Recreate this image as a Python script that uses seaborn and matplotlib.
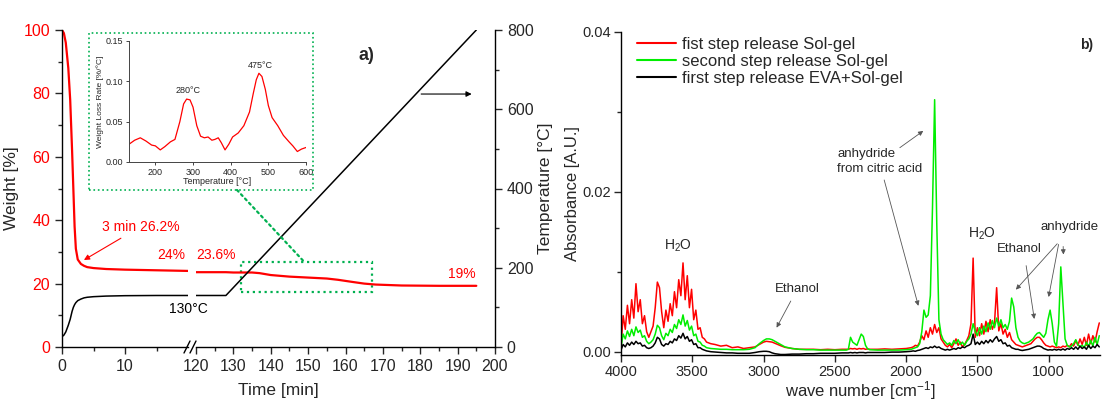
import numpy as np
import pandas as pd
import seaborn as sns
import matplotlib.pyplot as plt
from matplotlib.patches import Rectangle, ConnectionPatch
from matplotlib.lines import Line2D
from matplotlib.ticker import FormatStrFormatter

# ---------------- data: panel a) TGA ----------------
t_early = [0, 0.3, 0.6, 1.0, 1.3, 1.6, 1.8, 2.0, 2.2, 2.5, 3.0, 3.5, 4, 5, 7, 10, 15, 20]
weight_early = [100, 99, 96, 88, 78, 62, 50, 38, 31, 27.6, 26.2, 25.6, 25.2, 24.9, 24.6, 24.4, 24.2, 24.0]
temp_early = [26, 30, 38, 55, 70, 90, 100, 107, 112, 117, 121, 124, 125.5, 127, 128.5, 129.5, 130, 130]

t_late = [120, 125, 128, 130, 135, 137, 140, 145, 150, 155, 158, 162, 165, 168, 175, 185, 195]
weight_late = [23.6, 23.6, 23.6, 23.5, 23.5, 23.3, 22.7, 22.2, 21.9, 21.6, 21.2, 20.5, 20.0, 19.7, 19.4, 19.3, 19.3]
temp_late = [130, 130, 130, 150, 200, 220, 250, 300, 350, 400, 430, 470, 500, 530, 600, 700, 800]

# inset DTG
inset_T = [130, 145, 160, 175, 190, 200, 213, 225, 240, 252,
           265, 275, 283, 292, 300, 310, 320, 330, 340, 350,
           358, 367, 375, 385, 395, 405, 420, 435, 450, 460,
           468, 475, 483, 492, 500, 510, 525, 540, 555, 565,
           577, 588, 600]
inset_rate = [0.022, 0.027, 0.030, 0.026, 0.021, 0.020, 0.015, 0.019, 0.025, 0.028,
              0.050, 0.072, 0.078, 0.077, 0.068, 0.045, 0.032, 0.030, 0.031, 0.027,
              0.028, 0.030, 0.024, 0.015, 0.022, 0.031, 0.036, 0.045, 0.062, 0.085,
              0.102, 0.110, 0.106, 0.090, 0.070, 0.055, 0.045, 0.033, 0.025, 0.020,
              0.013, 0.016, 0.018]

# ---------------- data: panel b) FTIR (absorbance in 1e-3 units) ----------------
wn_a = [4000, 3985, 3970, 3955, 3940, 3925, 3910, 3895,
        3880, 3865, 3850, 3835, 3820, 3805, 3790, 3775, 3760, 3745, 3730, 3715, 3700,
        3685, 3670, 3655, 3640, 3625, 3610, 3595, 3580, 3565, 3550, 3535, 3520, 3505, 3490,
        3475, 3460, 3445, 3430, 3415, 3400]
red_a = [0.6, 4.5, 2.8, 5.8, 3.5, 6.5, 4.2, 8.5,
         5.0, 6.5, 3.5, 4.5, 2.5, 1.8, 2.5, 3.2, 5.5, 8.7, 8.0, 5.0, 3.0,
         5.2, 3.8, 6.0, 4.5, 7.5, 5.5, 9.0, 7.0, 11.1, 6.5, 9.5, 5.5, 7.8, 4.0,
         5.2, 2.8, 3.0, 1.8, 1.6, 1.2]
green_a = [0.5, 2.2, 1.6, 2.6, 1.9, 2.8, 2.0, 3.1,
           2.4, 2.7, 1.8, 2.0, 1.3, 1.0, 1.2, 1.5, 2.2, 3.3, 3.0, 2.0, 1.5,
           2.3, 2.0, 2.8, 2.4, 3.4, 2.9, 4.0, 3.4, 4.6, 3.2, 3.9, 2.7, 3.2, 2.0,
           2.2, 1.3, 1.2, 0.8, 0.7, 0.5]
black_a = [0.2, 0.9, 0.6, 1.1, 0.8, 1.2, 0.9, 1.3,
           1.0, 1.1, 0.7, 0.8, 0.5, 0.4, 0.5, 0.7, 1.1, 1.8, 1.6, 0.9, 0.7,
           1.0, 0.9, 1.3, 1.1, 1.6, 1.4, 2.0, 1.7, 2.3, 1.6, 1.9, 1.3, 1.5, 0.9,
           1.0, 0.5, 0.5, 0.3, 0.2, 0.1]

wn_b = [3370, 3340, 3300, 3260, 3220, 3180, 3140, 3100, 3060, 3030,
        3000, 2980, 2960, 2940, 2920, 2900, 2880, 2850, 2800, 2750,
        2700, 2650, 2600, 2550, 2500, 2450, 2420]
red_b = [1.0, 0.9, 0.7, 0.8, 0.5, 0.6, 0.4, 0.5, 0.6, 0.9,
         1.2, 1.3, 1.25, 1.2, 1.05, 0.9, 0.75, 0.55, 0.4, 0.3,
         0.3, 0.3, 0.25, 0.3, 0.25, 0.3, 0.3]
green_b = [0.4, 0.35, 0.3, 0.3, 0.25, 0.25, 0.25, 0.3, 0.5, 1.0,
           1.4, 1.6, 1.6, 1.5, 1.3, 1.1, 0.9, 0.6, 0.4, 0.3,
           0.25, 0.25, 0.2, 0.2, 0.2, 0.2, 0.2]
black_b = [0.0, -0.05, -0.1, -0.15, -0.15, -0.2, -0.2, -0.2, -0.1, 0.0,
           0.05, 0.05, 0.0, -0.15, -0.25, -0.3, -0.35, -0.35, -0.3, -0.3,
           -0.25, -0.25, -0.2, -0.2, -0.2, -0.15, -0.15]

wn_c = [2405, 2390, 2375, 2360, 2345, 2330, 2315, 2300, 2285, 2270, 2255,
        2200, 2150, 2100, 2050, 2000, 1965]
red_c = [0.3, 0.4, 0.35, 0.4, 0.3, 0.4, 0.35, 0.4, 0.3, 0.35, 0.3,
         0.3, 0.35, 0.3, 0.35, 0.4, 0.5]
green_c = [0.3, 1.8, 1.2, 1.0, 0.8, 1.5, 2.2, 1.9, 0.8, 0.35, 0.25,
           0.2, 0.2, 0.2, 0.2, 0.25, 0.3]
black_c = [-0.15, -0.1, -0.15, -0.1, -0.15, -0.1, -0.1, -0.1, -0.15, -0.1, -0.1,
           -0.1, -0.1, -0.05, -0.05, 0.0, 0.05]

wn_e = [1950, 1935, 1920, 1905, 1890, 1875, 1860, 1845, 1830, 1815,
        1800, 1785, 1770, 1755, 1740, 1725, 1710, 1695, 1680, 1665,
        1650, 1635, 1620, 1605, 1590, 1575, 1560, 1545, 1530, 1515,
        1500, 1485, 1470, 1455, 1440, 1425, 1410, 1395, 1380, 1365,
        1350, 1335, 1320, 1305, 1290, 1275, 1260, 1245, 1230, 1215]
red_e = [0.6, 0.8, 0.7, 1.2, 2.0, 1.5, 2.6, 1.8, 3.0, 2.2,
         3.4, 2.4, 3.0, 1.6, 1.2, 0.8, 0.6, 0.9, 0.5, 1.0,
         1.6, 0.8, 1.2, 0.6, 0.9, 1.4, 2.0, 3.5, 11.7, 1.8,
         3.0, 2.0, 3.5, 2.2, 3.8, 2.5, 4.0, 2.8, 3.6, 8.0,
         2.6, 3.5, 2.2, 2.8, 1.8, 2.4, 1.5, 1.2, 0.9, 0.8]
green_e = [0.4, 0.5, 0.6, 1.0, 2.5, 5.2, 4.3, 4.6, 7.0, 18.0,
           31.5, 16.0, 4.0, 2.2, 1.5, 1.2, 0.9, 1.1, 0.8, 1.4,
           1.0, 1.5, 0.9, 1.2, 0.8, 1.3, 1.6, 2.2, 3.5, 2.5,
           2.0, 3.0, 2.2, 3.2, 2.5, 3.6, 2.8, 3.9, 3.0, 4.2,
           3.2, 4.0, 3.0, 3.4, 2.8, 3.8, 6.7, 5.6, 3.0, 1.8]
black_e = [0.1, 0.05, 0.15, 0.2, 0.3, 0.4, 0.5, 0.4, 0.6, 0.5,
           0.7, 0.5, 0.6, 0.4, 0.3, 0.2, 0.3, 0.2, 0.3, 0.4,
           0.3, 0.5, 0.4, 0.6, 0.5, 0.7, 0.8, 1.0, 2.2, 0.9,
           1.2, 0.9, 1.3, 1.0, 1.4, 1.1, 1.5, 1.2, 1.6, 1.9,
           1.3, 1.5, 1.0, 1.1, 0.7, 0.8, 0.5, 0.4, 0.3, 0.3]

wn_f = [1200, 1185, 1170, 1155, 1140, 1125, 1110, 1095, 1080, 1065,
        1050, 1035, 1020, 1005, 990, 975, 960, 945, 930, 915,
        900, 885, 870, 855, 840, 825, 810, 795, 780, 765,
        750, 735, 720, 705, 690, 675, 660, 645]
red_f = [0.7, 0.6, 0.7, 0.8, 0.9, 1.0, 1.3, 1.6, 1.8, 1.8,
         1.5, 1.1, 0.8, 0.7, 0.6, 0.7, 0.6, 0.5, 0.6, 0.5,
         0.7, 0.6, 0.8, 0.6, 1.0, 0.7, 1.4, 0.8, 1.6, 0.9,
         1.8, 0.8, 2.2, 1.0, 2.0, 1.2, 2.5, 3.6]
green_f = [1.3, 1.1, 1.0, 1.1, 1.2, 1.4, 1.6, 2.0, 2.3, 2.4,
           2.1, 1.8, 2.3, 4.0, 5.2, 3.5, 1.2, 0.7, 3.5, 10.6,
           6.0, 1.6, 0.8, 0.6, 0.7, 1.0, 1.5, 0.9, 0.6, 0.8,
           0.5, 1.2, 0.6, 1.4, 0.7, 1.8, 0.9, 2.0]
black_f = [0.2, 0.15, 0.2, 0.25, 0.3, 0.4, 0.5, 0.6, 0.7, 0.7,
           0.6, 0.4, 0.3, 0.2, 0.25, 0.2, 0.3, 0.2, 0.3, 0.2,
           0.35, 0.2, 0.4, 0.3, 0.5, 0.3, 0.6, 0.3, 0.7, 0.4,
           0.6, 0.3, 0.8, 0.4, 0.7, 0.5, 0.9, 0.6]

series_names = ['fist step release Sol-gel', 'second step release Sol-gel',
                'first step release EVA+Sol-gel']
series_colors = ['#ff0000', '#00ee00', '#000000']

# ---------------- style ----------------
sns.set_style("ticks")
plt.rcParams['font.family'] = ['Liberation Sans', 'DejaVu Sans']
plt.rcParams['mathtext.fontset'] = 'custom'
plt.rcParams['mathtext.rm'] = 'Liberation Sans'
plt.rcParams['mathtext.default'] = 'regular'
plt.rcParams['axes.edgecolor'] = 'black'
plt.rcParams['axes.linewidth'] = 1.0
GREEN_BOX = '#00b050'

W, H = 1110, 401
def box(x0, y0, x1, y1):
    # pixel rectangle -> figure fraction [left, bottom, width, height]
    return [x0 / W, 1 - y1 / H, (x1 - x0) / W, (y1 - y0) / H]

fig = plt.figure(figsize=(11.1, 4.01), dpi=100)

# ---------------- panel a) ----------------
ax1 = fig.add_axes(box(62, 30, 188, 347))
ax2 = fig.add_axes(box(196, 30, 495, 347))
tw1 = ax1.twinx()
tw2 = ax2.twinx()
for a in (ax1, ax2, tw1, tw2):
    a.patch.set_visible(False)

sns.lineplot(x=t_early, y=weight_early, ax=ax1, color='red', lw=1.6)
sns.lineplot(x=t_late, y=weight_late, ax=ax2, color='red', lw=1.6)
sns.lineplot(x=t_early, y=temp_early, ax=tw1, color='black', lw=1.1)
sns.lineplot(x=t_late, y=temp_late, ax=tw2, color='black', lw=1.1)

for a in (ax1, ax2):
    a.set_ylim(0, 100)
    a.spines['top'].set_visible(False)
    a.tick_params(which='both', direction='out', labelsize=11.5, width=1)
    a.tick_params(which='major', length=5)
    a.tick_params(which='minor', length=3)
for a in (tw1, tw2):
    a.set_ylim(0, 800)
    a.spines['top'].set_visible(False)
    a.spines['left'].set_visible(False)
    a.spines['bottom'].set_visible(False)

ax1.set_xlim(0, 20)
ax1.set_xticks([0, 10])
ax1.set_xticks([5, 15], minor=True)
ax1.set_yticks(range(0, 101, 20))
ax1.set_yticks(range(10, 100, 20), minor=True)
ax1.tick_params(axis='y', labelcolor='red')
ax1.spines['right'].set_visible(False)
ax1.set_ylabel('Weight [%]', fontsize=12.5, labelpad=3)
tw1.axis('off')

ax2.set_xlim(120, 200)
ax2.set_xticks(range(120, 201, 10))
ax2.set_xticks(range(125, 200, 10), minor=True)
ax2.spines['left'].set_visible(False)
ax2.spines['right'].set_visible(False)
ax2.tick_params(axis='y', which='both', left=False, labelleft=False)

tw2.set_yticks(range(0, 801, 200))
tw2.set_yticks(range(100, 800, 200), minor=True)
tw2.tick_params(which='both', direction='out', labelsize=11.5, width=1)
tw2.tick_params(which='major', length=5)
tw2.tick_params(which='minor', length=3)
tw2.set_ylabel('Temperature [°C]', fontsize=12.5, labelpad=3)

fig.text(278 / W, 1 - 390 / H, 'Time [min]', fontsize=12.5, ha='center', va='center')

# axis break marks
for x0 in (184, 190):
    fig.add_artist(Line2D([x0 / W, (x0 + 6) / W], [1 - 353 / H, 1 - 341 / H],
                          transform=fig.transFigure, color='black', lw=1))

# annotations panel a)
ax1.annotate('3 min 26.2%', xy=(3.1, 27.0), xytext=(12.5, 38), color='red', fontsize=10,
             ha='center', va='center',
             arrowprops=dict(arrowstyle='-|>', color='red', lw=0.8, mutation_scale=8))
ax1.text(17.3, 29.0, '24%', color='red', fontsize=10, ha='center', va='center')
ax2.text(125.3, 29.0, '23.6%', color='red', fontsize=10, ha='center', va='center')
ax1.text(20, 12, '130°C', color='black', fontsize=10, ha='center', va='center')
ax2.text(191, 23.0, '19%', color='red', fontsize=10, ha='center', va='center')
ax2.text(165.6, 92, 'a)', fontsize=13, fontweight='bold', ha='center', va='center')
ax2.annotate('', xy=(194.5, 79.8), xytext=(179.5, 79.8),
             arrowprops=dict(arrowstyle='-|>', color='black', lw=0.8, mutation_scale=8))

# zoom box and link to inset
ax2.add_patch(Rectangle((132, 17.4), 35, 9.4, fill=False, ls=':', lw=1.6, ec=GREEN_BOX))
fig.add_artist(Rectangle((89 / W, 1 - 190 / H), (313 - 89) / W, (190 - 33) / H,
                         transform=fig.transFigure, fill=False, ls=':', lw=1.2, ec=GREEN_BOX))
fig.add_artist(ConnectionPatch(xyA=(237 / W, 1 - 190 / H), coordsA='figure fraction',
                               xyB=(149, 26.8), coordsB='data', axesB=ax2,
                               ls=':', lw=1.6, color=GREEN_BOX))

# inset
axin = fig.add_axes(box(129, 41, 306, 162))
sns.lineplot(x=inset_T, y=inset_rate, ax=axin, color='red', lw=0.9)
axin.set_xlim(130, 600)
axin.set_ylim(0, 0.15)
axin.set_xticks([200, 300, 400, 500, 600])
axin.set_yticks([0, 0.05, 0.10, 0.15])
axin.yaxis.set_major_formatter(FormatStrFormatter('%.2f'))
for s in ('top', 'right'):
    axin.spines[s].set_visible(False)
for s in ('left', 'bottom'):
    axin.spines[s].set_linewidth(0.7)
    axin.spines[s].set_color('#444444')
axin.tick_params(direction='out', length=2.5, width=0.7, labelsize=6.5, pad=1.5, color='#444444')
axin.set_xlabel('Temperature [°C]', fontsize=6.5, labelpad=0.5)
axin.set_ylabel('Weight Loss Rate [%/°C]', fontsize=6, labelpad=1.5)
axin.text(288, 0.083, '280°C', fontsize=6.5, ha='center', va='bottom')
axin.text(478, 0.114, '475°C', fontsize=6.5, ha='center', va='bottom')

# ---------------- panel b) ----------------
ax3 = fig.add_axes(box(621, 31.7, 1100, 354.9))

wn_all = wn_a + wn_b + wn_c + wn_e + wn_f
red_all = red_a + red_b + red_c + red_e + red_f
green_all = green_a + green_b + green_c + green_e + green_f
black_all = black_a + black_b + black_c + black_e + black_f
spec = pd.DataFrame({
    'wn': wn_all * 3,
    'absorbance': np.array(red_all + green_all + black_all) / 1000.0,
    'series': [series_names[0]] * len(wn_all) + [series_names[1]] * len(wn_all)
              + [series_names[2]] * len(wn_all),
})
sns.lineplot(data=spec, x='wn', y='absorbance', hue='series', hue_order=series_names,
             palette=dict(zip(series_names, series_colors)), estimator=None,
             lw=1.1, ax=ax3)

ax3.set_xlim(4000, 640)
ax3.set_ylim(-0.0004, 0.04)
ax3.set_xticks([4000, 3500, 3000, 2500, 2000, 1500, 1000])
ax3.set_yticks([0, 0.02, 0.04])
ax3.set_yticks([0.01, 0.03], minor=True)
ax3.yaxis.set_major_formatter(FormatStrFormatter('%.2f'))
ax3.spines['top'].set_visible(False)
ax3.spines['right'].set_visible(False)
ax3.tick_params(which='both', direction='out', labelsize=10.5, width=1, pad=2)
ax3.tick_params(which='major', length=5)
ax3.tick_params(which='minor', length=3)
ax3.set_xlabel('wave number [cm$^{-1}$]', fontsize=12, labelpad=0)
ax3.set_ylabel('Absorbance [A.U.]', fontsize=12, labelpad=2)

leg = ax3.legend(loc='upper left', bbox_to_anchor=(0.01, 1.02), frameon=False, fontsize=12,
                 handlelength=2.3, handletextpad=0.4, labelspacing=0.12, borderaxespad=0.3)
for ln in leg.get_lines():
    ln.set_linewidth(1.5)

arrow_kw = dict(arrowstyle='-|>', color='#555555', lw=0.6, mutation_scale=7)
ax3.text(3600, 0.0132, 'H$_2$O', fontsize=10, ha='center', va='center')
ax3.annotate('Ethanol', xy=(2918, 0.0027), xytext=(2765, 0.0078), fontsize=9.5,
             ha='center', va='center', arrowprops=arrow_kw)
ax3.text(2482, 0.0238, 'anhydride\nfrom citric acid', fontsize=9.5, ha='left', va='center',
         linespacing=1.35)
ax3.annotate('', xy=(1864, 0.0278), xytext=(2060, 0.0253), arrowprops=arrow_kw)
ax3.annotate('', xy=(1909, 0.0054), xytext=(2159, 0.0218), arrowprops=arrow_kw)
ax3.text(1465, 0.0148, 'H$_2$O', fontsize=10, ha='center', va='center')
ax3.text(1203, 0.0128, 'Ethanol', fontsize=9.5, ha='center', va='center')
ax3.annotate('', xy=(1098, 0.00375), xytext=(1161, 0.0111), arrowprops=arrow_kw)
ax3.text(857, 0.0156, 'anhydride', fontsize=9.5, ha='center', va='center')
ax3.annotate('', xy=(1243, 0.0075), xytext=(927, 0.01375), arrowprops=arrow_kw)
ax3.annotate('', xy=(1004, 0.0065), xytext=(927, 0.01375), arrowprops=arrow_kw)
ax3.annotate('', xy=(896, 0.0118), xytext=(899, 0.0135), arrowprops=arrow_kw)
ax3.text(733, 0.0383, 'b)', fontsize=10, fontweight='bold', ha='center', va='center')

fig.savefig('out.png', dpi=100, facecolor='white')
